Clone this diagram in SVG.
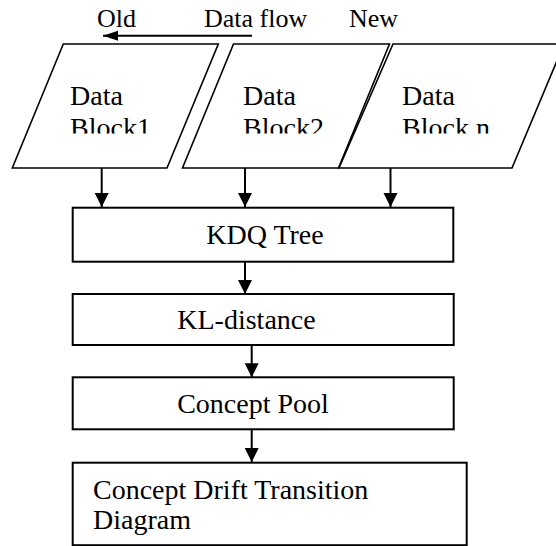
<svg xmlns="http://www.w3.org/2000/svg" width="556" height="546" viewBox="0 0 556 546">
<style>
text{font-family:"Liberation Serif","Times New Roman",serif;fill:#000}
.lbl{font-size:26px}
.t{font-size:28px}
.para{fill:#fff;stroke:#000;stroke-width:1.6}
.box{fill:#fff;stroke:#000;stroke-width:2}
.conn{stroke:#000;stroke-width:2;fill:none;marker-end:url(#ah)}
</style>
<defs>
<marker id="ah" markerUnits="userSpaceOnUse" markerWidth="16" markerHeight="16" refX="14" refY="7" orient="auto">
<path d="M0,0 L14,7 L0,14 Z" fill="#000"/>
</marker>
<marker id="ah2" markerUnits="userSpaceOnUse" markerWidth="16" markerHeight="12" refX="15" refY="5" orient="auto">
<path d="M0,0 L15,5 L0,10 Z" fill="#000"/>
</marker>
<clipPath id="clipText"><rect x="0" y="0" width="556" height="133.5"/></clipPath>
</defs>
<g id="labels">
<text class="lbl" x="97" y="27">Old</text>
<text class="lbl" x="204" y="27">Data flow</text>
<text class="lbl" x="349" y="27">New</text>
</g>
<g id="block1">
<polygon class="para" points="63.3,44 218.3,44 167,168 12.3,168"/>
<g clip-path="url(#clipText)"><text class="t" x="70" y="105">Data</text><text class="t" x="70" y="137">Block1</text></g>
</g>
<g id="block2">
<polygon class="para" points="233.5,44 389.5,44 338.5,168 182.5,168"/>
<g clip-path="url(#clipText)"><text class="t" x="243" y="105">Data</text><text class="t" x="243" y="137">Block2</text></g>
</g>
<g id="blockn">
<polygon class="para" points="393,44 564,44 512,168 339,168"/>
<g clip-path="url(#clipText)"><text class="t" x="402" y="105">Data</text><text class="t" x="402" y="137">Block n</text></g>
</g>
<g id="kdq">
<rect class="box" x="72.7" y="207.7" width="380.6" height="54"/>
<text class="t" x="265" y="244" text-anchor="middle">KDQ Tree</text>
</g>
<g id="kl">
<rect class="box" x="72.7" y="294" width="381" height="51"/>
<text class="t" x="246.5" y="329" text-anchor="middle">KL-distance</text>
</g>
<g id="pool">
<rect class="box" x="72.7" y="377.3" width="381" height="52"/>
<text class="t" x="253" y="413" text-anchor="middle">Concept Pool</text>
</g>
<g id="ctd">
<rect class="box" x="72.7" y="462.7" width="394" height="82.5"/>
<text class="t" x="93" y="499">Concept Drift Transition</text>
<text class="t" x="93" y="529">Diagram</text>
</g>
<g id="connectors">
<line x1="252" y1="35.7" x2="103" y2="35.7" stroke="#000" stroke-width="2" marker-end="url(#ah2)"/>
<line class="conn" x1="101.7" y1="168" x2="101.7" y2="207"/>
<line class="conn" x1="245" y1="168" x2="245" y2="207"/>
<line class="conn" x1="390.5" y1="168" x2="390.5" y2="207"/>
<line class="conn" x1="245" y1="262" x2="245" y2="294"/>
<line class="conn" x1="251.7" y1="345" x2="251.7" y2="377.3"/>
<line class="conn" x1="251.7" y1="430" x2="251.7" y2="462"/>
</g>
</svg>
